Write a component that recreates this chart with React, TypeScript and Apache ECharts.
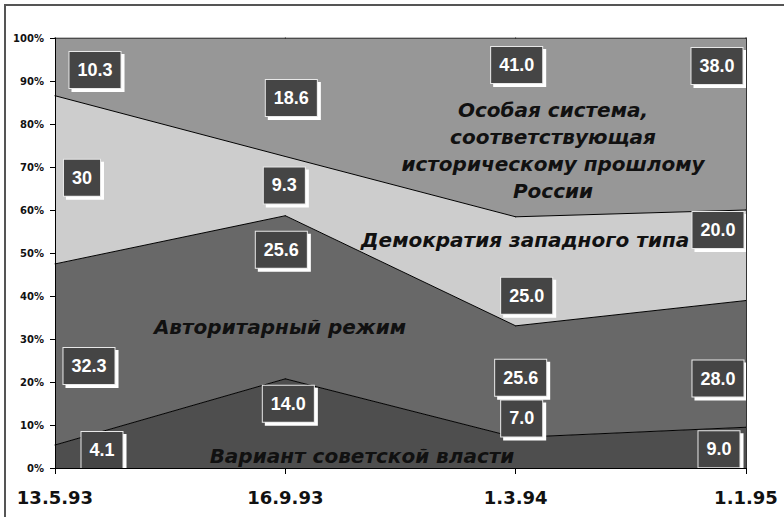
import React, { useEffect, useRef } from "react";
import * as echarts from "echarts";

// ---- data ----
const categories = ["13.5.93", "16.9.93", "1.3.94", "1.1.95"];
const sovietLabels = ["4.1", "14.0", "7.0", "9.0"];
const authoritarianLabels = ["32.3", "25.6", "25.6", "28.0"];
const westernLabels = ["30", "9.3", "25.0", "20.0"];
const specialLabels = ["10.3", "18.6", "41.0", "38.0"];

const seriesNames = [
  "Вариант советской власти",
  "Авторитарный режим",
  "Демократия западного типа",
  "Особая система, соответствующая историческому прошлому России",
];

// ---- styles ----
const bandColors = ["#4e4e4e", "#686868", "#cdcdcd", "#979797"];
// pixel offsets of each value box from its point (style, not data)
const labelOffsets = [
  [[47, 5], [3, 25], [6, -19], [-27, 22]],
  [[34, 102], [-4, 34], [5, 52], [-28, 78]],
  [[27, 82], [-1, 29], [11, 79], [-28, 20]],
  [[40, 32], [6, 60], [1, 27], [-29, 28]],
];

export default function App() {
  const ref = useRef<HTMLDivElement>(null);

  useEffect(() => {
    if (!ref.current) return;
    const chart = echarts.init(ref.current, null, { renderer: "svg" });

    const labelSets = [sovietLabels, authoritarianLabels, westernLabels, specialLabels];
    const values = labelSets.map((arr) => arr.map(Number));
    const totals = categories.map((_, i) => values.reduce((s, arr) => s + arr[i], 0));
    const pct = values.map((arr) => arr.map((v, i) => (v / totals[i]) * 100));

    const series = pct.map((arr, si) => ({
      name: seriesNames[si],
      type: "line",
      stack: "total",
      symbol: "circle",
      symbolSize: 1,
      showSymbol: true,
      itemStyle: { color: "#000" },
      lineStyle: { color: "#000", width: 1 },
      areaStyle: { color: bandColors[si], opacity: 1 },
      z: 2,
      label: {
        show: true,
        position: "inside",
        color: "#fff",
        fontFamily: '"Liberation Sans", Arial, sans-serif',
        fontWeight: "bold",
        fontSize: 18,
        lineHeight: 18,
        backgroundColor: "#454545",
        borderColor: "#e8e8e8",
        borderWidth: 1,
        padding: [9, 8, 9, 8],
        shadowColor: "#ffffff",
        shadowBlur: 0,
        shadowOffsetX: 3,
        shadowOffsetY: 3,
      },
      data: arr.map((v, i) => ({
        value: v,
        label: {
          offset: labelOffsets[si][i],
          formatter: () => labelSets[si][i],
        },
      })),
    }));

    const annoStyle = {
      fill: "#111",
      font: 'italic bold 20px "DejaVu Sans", sans-serif',
      fontFamily: '"DejaVu Sans", sans-serif',
      fontStyle: "italic",
      fontWeight: "bold",
      fontSize: 20,
      lineHeight: 27,
      align: "center",
      verticalAlign: "middle",
    };

    chart.setOption({
      animation: false,
      backgroundColor: "#fff",
      grid: { left: 55, right: 38, top: 38, bottom: 49, containLabel: false },
      xAxis: {
        type: "category",
        data: categories,
        boundaryGap: false,
        axisLine: { show: true, lineStyle: { color: "#000", width: 1 } },
        axisTick: { show: true, length: 6, alignWithLabel: true, lineStyle: { color: "#000" } },
        axisLabel: {
          color: "#111",
          fontFamily: '"DejaVu Sans", sans-serif',
          fontWeight: "bold",
          fontSize: 18,
          margin: 20,
        },
        splitLine: { show: false },
        z: 5,
      },
      yAxis: [
        {
          type: "value",
          min: 0,
          max: 100,
          interval: 10,
          axisLine: { show: true, lineStyle: { color: "#000", width: 1 } },
          axisTick: { show: true, length: 5, lineStyle: { color: "#000" } },
          axisLabel: {
            color: "#111",
            fontFamily: '"DejaVu Sans", sans-serif',
            fontWeight: "bold",
            fontSize: 10,
            margin: 11,
            formatter: "{value}%",
          },
          splitLine: { show: false },
          z: 5,
        },
        {
          type: "value",
          position: "right",
          min: 0,
          max: 100,
          interval: 10,
          axisLine: { show: true, lineStyle: { color: "#333", width: 1 } },
          axisTick: { show: false },
          axisLabel: { show: false },
          splitLine: { show: false },
          z: 5,
        },
      ],
      series,
      graphic: [
        {
          type: "rect",
          silent: true,
          shape: { x: 5, y: 5, width: 800, height: 540 },
          style: { fill: "none", stroke: "#555", lineWidth: 2 },
          z: 0,
        },
        {
          type: "text",
          silent: true,
          x: 553,
          y: 150,
          z: 50,
          style: {
            ...annoStyle,
            text: "Особая система,\nсоответствующая\nисторическому прошлому\nРоссии",
          },
        },
        {
          type: "text",
          silent: true,
          x: 525,
          y: 240,
          z: 50,
          style: { ...annoStyle, text: "Демократия западного типа" },
        },
        {
          type: "text",
          silent: true,
          x: 280,
          y: 327,
          z: 50,
          style: { ...annoStyle, text: "Авторитарный режим" },
        },
        {
          type: "text",
          silent: true,
          x: 362,
          y: 456,
          z: 50,
          style: { ...annoStyle, text: "Вариант советской власти" },
        },
      ],
    });

    return () => chart.dispose();
  }, []);

  return (
    <div
      ref={ref}
      style={{ position: "fixed", left: 0, top: 0, width: 784, height: 517 }}
    />
  );
}
